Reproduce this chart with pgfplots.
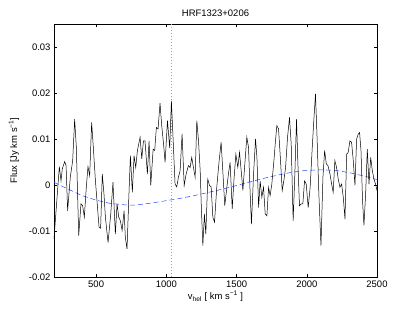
\documentclass[border=0pt]{standalone}
\usepackage{pgfplots}
\pgfplotsset{compat=1.18}
\usepackage{fontspec}
\setmainfont{Liberation Sans}
\definecolor{vpink}{rgb}{1,0.45,0.55}
\definecolor{bblue}{rgb}{0.15,0.3,1}
\begin{document}
\begin{tikzpicture}
\useasboundingbox (-54bp,-35bp) rectangle (361bp,277bp);
\begin{axis}[
  at={(0,0)}, anchor=south west,
  scale only axis, width=323bp, height=253bp,
  xmin=200, xmax=2500, ymin=-0.02, ymax=0.035,
  xtick={500,1000,1500,2000,2500},
  ytick={-0.02,-0.01,0,0.01,0.02,0.03},
  scaled y ticks=false, scaled x ticks=false,
  /pgf/number format/assume math mode=true,
  yticklabel style={/pgf/number format/fixed,/pgf/number format/precision=2},
  xticklabel style={/pgf/number format/set thousands separator={}},
  tick align=inside, tick pos=both,
  major tick length=3bp,
  axis line style={line width=0.5pt},
  tick style={black, line width=0.5pt},
  title={HRF1323+0206},
  title style={yshift=-2bp},
  xlabel={v\textsubscript{hel} [ km s\textsuperscript{−1} ]},
  ylabel={Flux [Jy km s\textsuperscript{−1}]},
  xlabel style={yshift=3bp},
  ylabel style={yshift=3bp},
  font=\fontsize{9.5}{11}\selectfont,
]
\addplot[vpink, line width=0.7pt, dash pattern=on 1.5bp off 1.5bp] coordinates {(1035,-0.02) (1035,0.035)};
\addplot[draw=bblue, dash pattern=on 5bp off 3bp, line width=0.5pt] coordinates {
(200,0.0006) (300,-0.0009) (400,-0.0023) (500,-0.0033) (600,-0.0040) (700,-0.0043) (750,-0.0044) (800,-0.0043) (900,-0.0039) (1000,-0.0034) (1100,-0.0029) (1200,-0.0023) (1300,-0.0016) (1400,-0.0009) (1500,-0.0001) (1600,0.0007) (1700,0.0015) (1800,0.0022) (1900,0.0028) (2000,0.0032) (2100,0.0033) (2200,0.0032) (2300,0.0027) (2400,0.0020) (2500,0.0012)
};
\addplot[black, line width=0.5pt] coordinates {
(200,-0.0117) (238,0.0040) (250,0.0009) (259,0.0035) (276,0.0051) (286,0.0042) (297,-0.0056) (316,0.0017) (333,0.0053) (347,0.0143) (359,0.0082) (376,-0.0110) (392,-0.0041) (404,-0.0045) (416,-0.0070) (430,-0.0005) (442,0.0040) (454,0.0020) (468,0.0136) (480,0.0082) (495,0.0009) (506,-0.0034) (521,-0.0092) (532,-0.0094)
(544,0.0024) (556,-0.0020) (566,-0.0070) (585,-0.0125) (604,-0.0063) (620,0.0006) (637,-0.0107) (649,-0.0041) (661,-0.0070) (673,-0.0078) (685,-0.0099) (699,-0.0056) (708,-0.0114) (720,-0.0139) (732,-0.0034) (744,0.0064) (758,-0.0016) (770,0.0064) (782,0.0038) (794,0.0075) (813,0.0104) (825,0.0057) (837,0.0096)
(848,0.0096) (865,0.0024) (877,0.0096) (889,-0.0001) (906,0.0078) (917,0.0075) (929,0.0125) (941,0.0122) (955,0.0178) (967,0.0129) (979,0.0093) (991,0.0049) (1008,0.0140) (1015,0.0114) (1024,0.0080) (1036,0.0183) (1050,0.0086) (1062,0.0002) (1074,-0.0004) (1086,0.0017) (1098,0.0031) (1112,0.0111) (1127,-0.0001) (1141,0.0024) (1157,0.0042) (1169,0.0038)
(1181,0.0060) (1193,0.0038) (1205,0.0017) (1217,0.0140) (1229,0.0096) (1241,0.0031) (1250,-0.0056) (1260,-0.0132) (1271,-0.0063) (1281,-0.0107) (1295,0.0013) (1307,-0.0001) (1319,-0.0004) (1331,-0.0070) (1343,-0.0081) (1359,-0.0005) (1376,0.0053) (1390,0.0093) (1402,0.0031) (1416,-0.0045) (1431,-0.0005) (1442,0.0024) (1454,0.0049) (1469,-0.0052) (1481,0.0009) (1495,0.0067)
(1509,0.0038) (1521,0.0071) (1533,0.0031) (1545,-0.0012) (1557,0.0038) (1573,0.0104) (1585,0.0082) (1597,-0.0020) (1606,-0.0085) (1621,0.0024) (1635,0.0100) (1645,0.0060) (1657,-0.0049) (1668,0.0009) (1680,-0.0027) (1692,-0.0005) (1704,-0.0063) (1716,-0.0067) (1728,-0.0005) (1739,-0.0023) (1751,0.0002) (1766,0.0053) (1777,0.0096) (1787,0.0129) (1799,0.0122) (1813,0.0053) (1825,-0.0012)
(1837,0.0010) (1849,0.0038) (1863,0.0104) (1877,0.0147) (1889,0.0089) (1903,-0.0078) (1915,0.0024) (1927,0.0143) (1936,0.0053) (1948,-0.0045) (1960,-0.0041) (1972,-0.0041) (1984,0.0009) (1996,0.0002) (2010,-0.0049) (2024,-0.0005) (2039,0.0082) (2050,0.0140) (2062,0.0198) (2074,0.0096) (2086,-0.0020) (2101,-0.0132) (2115,0.0017) (2127,0.0075) (2139,0.0046) (2151,0.0042)
(2165,0.0024) (2177,0.0002) (2188,-0.0016) (2200,0.0053) (2212,0.0038) (2224,0.0013) (2236,-0.0005) (2248,0.0002) (2260,-0.0027) (2272,-0.0074) (2284,0.0067) (2295,0.0071) (2307,0.0096) (2319,0.0093) (2331,0.0053) (2343,-0.0001) (2355,0.0100) (2367,0.0111) (2376,0.0114) (2386,0.0075) (2397,-0.0034) (2407,-0.0088) (2419,-0.0020) (2431,0.0078) (2443,0.0002) (2455,0.0060) (2467,0.0031) (2478,0.0013) (2490,0.0002) (2500,-0.0012)
};
\end{axis}
\end{tikzpicture}
\end{document}
